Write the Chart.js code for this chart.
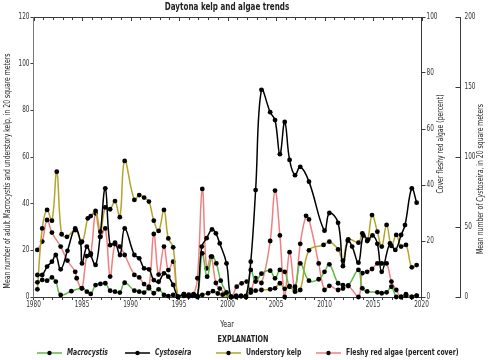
<!DOCTYPE html>
<html>
<head>
<meta charset="utf-8">
<script src="https://cdn.jsdelivr.net/npm/chart.js@4.4.0/dist/chart.umd.min.js"></script>
<style>
  html, body { margin: 0; padding: 0; background: #fff; }
  #wrap { width: 488px; height: 360px; position: relative; }
</style>
</head>
<body>
<div id="wrap"><canvas id="myChart"></canvas></div>
<script>
// data
const macroYears = [1980.4, 1980.9, 1981.4, 1981.9, 1982.3, 1982.8, 1983.9, 1985.0, 1985.5, 1985.9, 1986.4, 1986.9, 1987.4, 1987.9, 1988.4, 1988.9, 1989.4,
    1990.4, 1990.9, 1991.4, 1991.9, 1992.4, 1992.9, 1993.45, 1993.9, 1994.4, 1994.9, 1995.5, 1996.0, 1996.4, 1996.9, 1997.4, 1997.9, 1998.4, 1998.85,
    1999.3, 1999.9, 2000.4, 2000.9, 2001.4, 2001.9, 2002.4, 2002.9, 2003.5, 2004.4, 2004.9, 2005.4, 2005.9, 2006.4, 2006.96, 2007.5, 2008.4, 2009.4,
    2010.0, 2010.5, 2011.4, 2011.9, 2012.45, 2013.5, 2013.9, 2014.4, 2015.45, 2015.9, 2016.4, 2016.9, 2017.4, 2017.9, 2018.4, 2019.0, 2019.5];
const macroValues = [6.3, 7.3, 7.0, 8.4, 6.6, 0.9, 2.5, 3.7, 2.3, 1.3, 5.1, 5.6, 5.9, 2.7, 2.3, 1.9, 6.1,
    2.7, 2.3, 1.9, 3.7, 1.6, 3.3, 0.9, 0.4, 0.9, 0, 0.5, 0.3, 0.5, 0, 18.7, 8.7, 17.3, 14.4,
    7, 2, 0, 0.5, 0.5, 0, 11.6, 6.6, 10, 11.3, 8, 11.6, 10.8, 4.7, 4.4, 14.4, 7, 7.6,
    10.8, 14, 5.9, 5.1, 5, 11.6, 3.7, 2.4, 2, 1.6, 2, 4.4, 0, 0, 0.5, 0, 0.5];

const cystoYears = [1980.4, 1980.9, 1981.4, 1981.9, 1982.3, 1982.8, 1983.5, 1984.3, 1984.85, 1985.0, 1985.5, 1985.9, 1986.4, 1986.86, 1987.4, 1987.9, 1988.4, 1988.92, 1989.4,
    1990.4, 1990.9, 1991.4, 1991.9, 1992.4, 1992.9, 1993.45, 1993.9, 1994.4, 1994.9, 1995.5, 1996.0, 1996.5, 1996.9, 1997.35, 1997.85, 1998.4, 1998.8,
    1999.2, 1999.9, 2000.35, 2000.9, 2001.4, 2001.9, 2002.4, 2002.9, 2003.5, 2004.4, 2004.9, 2005.4, 2005.9, 2006.4, 2006.96, 2007.5, 2008.4,
    2010.0, 2010.5, 2011.4, 2011.9, 2012.4, 2012.85, 2013.5, 2014.0, 2014.5, 2014.95, 2015.45, 2015.9, 2016.75, 2017.3, 2017.9, 2018.3, 2019.0, 2019.5];
const cystoValues = [15.7, 15.7, 21.7, 25.2, 30, 19.8, 33, 49, 38.8, 24, 36, 30, 22.9, 43, 77.6, 37, 38.8, 30, 49,
    30, 27.6, 20.5, 19.8, 12.1, 10.9, 16.9, 14.5, 8.6, 0.2, 2, 0.5, 1, 0.5, 36, 42, 48.3, 45.5,
    38.3, 24, 0, 0, 0.5, 0, 25.2, 76.4, 148, 132, 126.4, 102, 125, 97.9, 87, 93, 82.4,
    47.4, 60, 53, 22, 40.2, 36, 24.5, 44, 41, 44, 38, 18, 38.3, 33.6, 44.3, 51.4, 77.6, 67.4];

const underYears = [1980.4, 1980.9, 1981.4, 1981.9, 1982.4, 1982.9, 1983.45, 1984.3, 1985.0, 1985.6, 1985.9, 1986.4, 1986.9, 1987.4, 1987.9, 1988.4, 1988.9, 1989.4,
    1990.4, 1990.9, 1991.4, 1991.9, 1992.4, 1992.9, 1993.45, 1993.9, 1994.4, 1994.9, 1995.5, 1996.0, 1996.5, 1996.9, 1997.4, 1998.0, 1998.5, 1999.0,
    1999.5, 2000.4, 2000.9, 2001.4, 2001.9, 2002.4, 2002.9, 2003.5, 2004.4, 2004.9, 2005.4, 2005.9, 2006.4, 2006.96, 2007.5, 2008.4,
    2009.9, 2010.5, 2011.4, 2011.9, 2012.45, 2013.5, 2013.9, 2014.4, 2014.9, 2015.45, 2015.9, 2016.4, 2016.9, 2017.4, 2017.9, 2018.4, 2019.0, 2019.5];
const underValues = [3.3, 29.4, 37.3, 32.7, 53.7, 26.9, 25.8, 28.7, 23.7, 33.7, 34.7, 36.9, 28, 38.4, 37.6, 41.1, 34.2, 58.3,
    41.6, 43.7, 42.6, 40.9, 32.7, 28.3, 37.3, 25.1, 21.3, 0, 0.5, 1, 1, 0.5, 0.9, 1.6, 2.5, 1.5,
    1, 0, 0.5, 0.5, 0.5, 1.9, 2.7, 3, 3.3, 3.7, 5.9, 3.5, 4.4, 2.3, 3, 20,
    22.3, 23.7, 20.4, 15.6, 24.7, 23.3, 27.3, 24, 35.1, 28, 21.6, 30.9, 21.9, 26.6, 21.6, 22.3, 12.7, 13.7];

const redYears = [1980.4, 1980.9, 1981.4, 1981.9, 1982.8, 1983.5, 1984.3, 1984.45, 1984.97, 1985.5, 1985.9, 1986.4, 1986.9, 1987.4, 1987.9, 1988.4, 1988.9, 1989.4,
    1990.4, 1990.9, 1991.4, 1991.9, 1992.4, 1992.9, 1993.45, 1993.9, 1994.4, 1994.9, 1995.5, 1996.0, 1996.5, 1996.9, 1997.4, 1997.85, 1998.3, 1998.8,
    1999.2, 1999.9, 2000.4, 2000.95, 2001.46, 2001.98, 2002.4, 2002.9, 2003.5, 2004.4, 2004.9, 2005.4, 2005.9, 2006.4, 2006.96, 2007.5, 2008.1, 2008.4,
    2009.4, 2010.0, 2010.5, 2011.4, 2011.9, 2012.45, 2013.5, 2013.9, 2014.4, 2014.9, 2015.45, 2015.9, 2016.4, 2016.9, 2017.4, 2017.9, 2018.4, 2019.0, 2019.5];
const redValues = [16.8, 19.8, 27.5, 23, 18, 13, 9, 6.7, 3.1, 14.6, 15.6, 29.9, 21.5, 24.5, 7.3, 18.9, 18, 15,
    7.9, 7, 4.6, 3.7, 22.5, 8, 18, 9.6, 12.6, 0, 1, 0.5, 1, 6.7, 38.6, 10.2, 14.4, 5,
    3, 1, 0, 3.7, 4.9, 5.5, 2.5, 6.7, 5, 20, 38, 22, 0, 16, 2.5, 19, 29, 27.7,
    12, 2.5, 4, 2.5, 3, 3.9, 0, 8.5, 9, 10, 12, 12, 12, 5.5, 2.5, 0, 1, 0, 0.5];

const yearTicks = [1980, 1985, 1990, 1995, 2000, 2005, 2010, 2015, 2020];

const FONT = '"DejaVu Sans Condensed", "Liberation Sans", sans-serif';
const SQUEEZE = 0.8;   // narrow look of the original type
const AXIS = '#3a3a3a';

function pts(xs, ys) {
    return xs.map((x, i) => ({ x: x, y: ys[i] }));
}

function series(label, xs, ys, color, axis) {
    return {
        label: label,
        data: pts(xs, ys),
        yAxisID: axis,
        borderColor: color,
        borderWidth: 1.5,
        tension: 0.4,
        pointRadius: 2.4,
        pointBackgroundColor: '#000',
        pointBorderWidth: 0,
        fill: false,
        clip: 6
    };
}

// one line of text, parts may have their own font; squeezed along the text
function richText(ctx, parts, x, y, rot, align) {
    ctx.save();
    ctx.translate(x, y);
    ctx.rotate(rot);
    ctx.scale(SQUEEZE, 1);
    let total = 0;
    parts.forEach(p => { ctx.font = p.font; total += ctx.measureText(p.text).width; });
    let cx = align === 'left' ? 0 : align === 'right' ? -total : -total / 2;
    ctx.textBaseline = 'middle';
    ctx.textAlign = 'left';
    parts.forEach(p => {
        ctx.font = p.font;
        ctx.fillStyle = p.color || '#222';
        ctx.fillText(p.text, cx, 0);
        cx += ctx.measureText(p.text).width;
    });
    ctx.restore();
}

const textPlugin = {
    id: 'textPlugin',
    afterDraw(chart) {
        const ctx = chart.ctx;
        const n = '8.5px ' + FONT;
        const it = 'italic 8.5px ' + FONT;
        const tf = '8px ' + FONT;
        const sx = chart.scales.x, top = chart.scales.xTop;
        const sy = chart.scales.y, sy1 = chart.scales.y1, sy2 = chart.scales.y2;

        // inner ticks along the top frame, left-pointing ticks on the Cystoseira axis
        ctx.save();
        ctx.strokeStyle = AXIS;
        ctx.lineWidth = 1;
        ctx.beginPath();
        top.ticks.forEach(t => {
            const px = Math.round(top.getPixelForValue(t.value)) + 0.5;
            ctx.moveTo(px, top.bottom);
            ctx.lineTo(px, top.bottom + (t.value % 5 === 0 ? 4 : 3));
        });
        sy2.ticks.forEach(t => {
            const py = Math.round(sy2.getPixelForValue(t.value)) + 0.5;
            ctx.moveTo(sy2.left, py);
            ctx.lineTo(sy2.left - 5, py);
        });
        ctx.stroke();
        ctx.restore();

        // tick labels from the scales
        sx.ticks.forEach(t => {
            if (yearTicks.includes(t.value)) {
                richText(ctx, [{ text: String(t.value), font: tf, color: '#333' }], sx.getPixelForValue(t.value), 305, 0);
            }
        });
        sy.ticks.forEach(t => {
            richText(ctx, [{ text: String(t.value), font: tf, color: '#333' }], sy.left + sy.width - 4, sy.getPixelForValue(t.value), 0, 'right');
        });
        sy1.ticks.forEach(t => {
            richText(ctx, [{ text: String(t.value), font: tf, color: '#333' }], sy1.left + 5, sy1.getPixelForValue(t.value), 0, 'left');
        });
        sy2.ticks.forEach(t => {
            richText(ctx, [{ text: String(t.value), font: tf, color: '#333' }], sy2.left + 4, sy2.getPixelForValue(t.value), 0, 'left');
        });

        richText(ctx, [{ text: 'Daytona kelp and algae trends', font: 'bold 10px ' + FONT }], 227, 7, 0);
        richText(ctx, [{ text: 'Year', font: '9px ' + FONT }], 227, 325, 0);
        richText(ctx, [{ text: 'EXPLANATION', font: 'bold 9px ' + FONT }], 243, 340, 0);
        richText(ctx, [
            { text: 'Mean number of adult ', font: n },
            { text: 'Macrocystis', font: it },
            { text: ' and understory kelp, in 20 square meters', font: n }
        ], 8, 171, -Math.PI / 2);
        richText(ctx, [{ text: 'Cover fleshy red algae (percent)', font: n }], 441, 144, -Math.PI / 2);
        richText(ctx, [
            { text: 'Mean number of ', font: n },
            { text: 'Cystoseira', font: it },
            { text: ', in 20 square meters', font: n }
        ], 481, 179, -Math.PI / 2);

        // explanation items
        const items = [
            { x: 37, color: '#5dbb46', text: 'Macrocystis', italic: true },
            { x: 125, color: '#000000', text: 'Cystoseira', italic: true },
            { x: 216, color: '#b5a42a', text: 'Understory kelp', italic: false },
            { x: 316, color: '#f08080', text: 'Fleshy red algae (percent cover)', italic: false }
        ];
        const ly = 353;
        items.forEach(item => {
            ctx.save();
            ctx.strokeStyle = item.color;
            ctx.lineWidth = 1.5;
            ctx.beginPath();
            ctx.moveTo(item.x, ly);
            ctx.lineTo(item.x + 25, ly);
            ctx.stroke();
            ctx.fillStyle = '#000';
            ctx.beginPath();
            ctx.arc(item.x + 12.5, ly, 2.2, 0, Math.PI * 2);
            ctx.fill();
            ctx.restore();
            richText(ctx, [{ text: item.text, font: (item.italic ? 'italic ' : '') + 'bold 8.5px ' + FONT }], item.x + 30, ly, 0, 'left');
        });
    }
};

// labels are drawn by textPlugin, the axes only give the marks
const noLabel = () => '';

const ctx = document.getElementById('myChart').getContext('2d');
const kelpChart = new Chart(ctx, {
    type: 'line',
    data: {
        datasets: [
            series('Cystoseira', cystoYears, cystoValues, '#000000', 'y2'),
            series('Macrocystis', macroYears, macroValues, '#5dbb46', 'y'),
            series('Understory kelp', underYears, underValues, '#b5a42a', 'y'),
            series('Fleshy red algae (percent cover)', redYears, redValues, '#f08080', 'y1')
        ]
    },
    options: {
        responsive: true,
        maintainAspectRatio: false,
        animation: false,
        devicePixelRatio: 1,
        layout: { padding: 0 },
        plugins: {
            legend: { display: false },
            tooltip: { enabled: false }
        },
        scales: {
            x: {
                type: 'linear',
                position: 'bottom',
                min: 1980,
                max: 2020,
                ticks: { stepSize: 1, autoSkip: false, maxRotation: 0, font: { size: 6 }, callback: noLabel },
                grid: { drawOnChartArea: false, tickLength: 3, color: AXIS },
                border: { color: AXIS },
                afterFit: s => { s.height = 63; }
            },
            xTop: {
                type: 'linear',
                position: 'top',
                min: 1980,
                max: 2020,
                ticks: { stepSize: 1, autoSkip: false, maxRotation: 0, font: { size: 6 }, callback: noLabel },
                grid: { drawOnChartArea: false, drawTicks: false },
                border: { color: AXIS },
                afterFit: s => { s.height = 17; }
            },
            y: {
                position: 'left',
                min: 0,
                max: 120,
                ticks: { stepSize: 20, font: { size: 6 }, callback: noLabel },
                grid: { drawOnChartArea: false, tickLength: 3, color: AXIS },
                border: { color: '#777' },
                afterFit: s => { s.width = 33.5; }
            },
            y1: {
                position: 'right',
                weight: 0,
                min: 0,
                max: 100,
                ticks: { stepSize: 20, font: { size: 6 }, callback: noLabel },
                grid: { drawOnChartArea: false, tickLength: 4, color: AXIS },
                border: { color: AXIS },
                afterFit: s => { s.width = 39; }
            },
            y2: {
                position: 'right',
                weight: 1,
                min: 0,
                max: 200,
                ticks: { stepSize: 50, font: { size: 6 }, callback: noLabel },
                grid: { drawOnChartArea: false, drawTicks: false },
                border: { color: AXIS },
                afterFit: s => { s.width = 27.5; }
            }
        }
    },
    plugins: [textPlugin]
});
</script>
</body>
</html>
